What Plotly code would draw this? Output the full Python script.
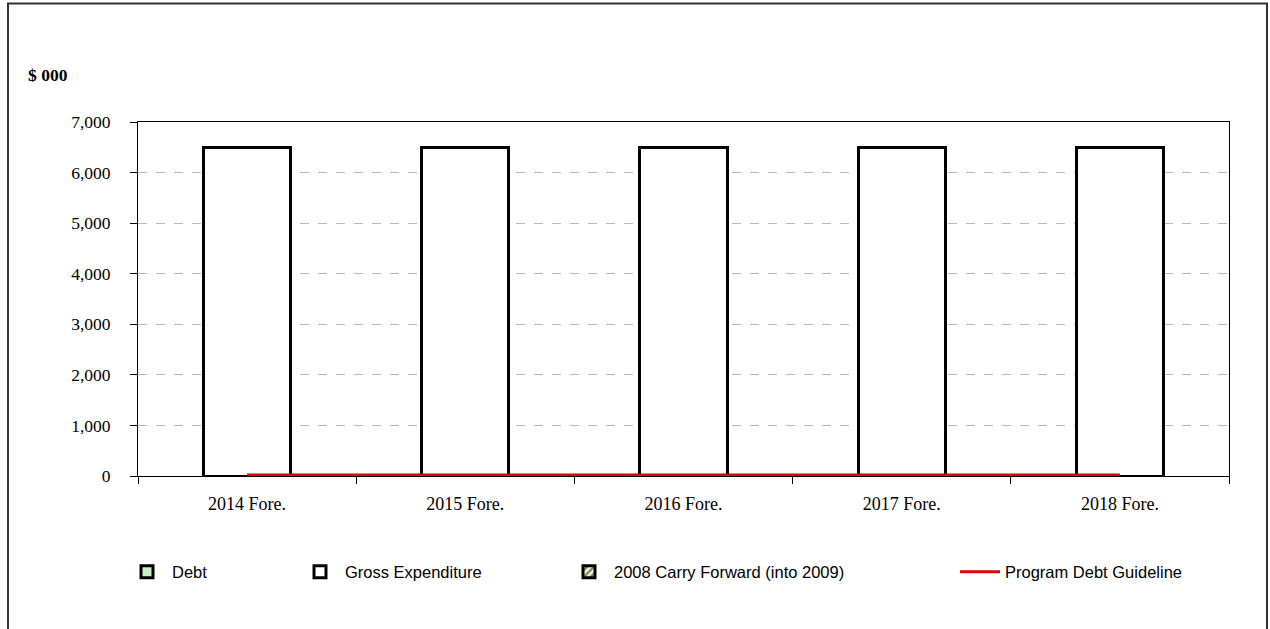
import plotly.graph_objects as go

categories = ["2014 Fore.", "2015 Fore.", "2016 Fore.", "2017 Fore.", "2018 Fore."]
debt = [0, 0, 0, 0, 0]
gross_expenditure = [6500, 6500, 6500, 6500, 6500]
carry_forward = [0, 0, 0, 0, 0]
debt_guideline = [20, 20, 20, 20, 20]
y_ticks = [0, 1000, 2000, 3000, 4000, 5000, 6000, 7000]
y_tick_labels = ["0", "1,000", "2,000", "3,000", "4,000", "5,000", "6,000", "7,000"]

W, H = 1270, 629
L, R, T, B = 138, 1229, 122, 476
pw, ph = R - L, B - T

def px(x):
    return (x - L) / pw

def py(y):
    return (B - y) / ph

serif = "Liberation Serif, Times New Roman, serif"

fig = go.Figure()
fig.add_trace(go.Bar(
    x=categories, y=debt, name="Debt",
    marker=dict(color="#c6f0c6", line=dict(color="black", width=3)),
    width=0.4, legend="legend",
))
fig.add_trace(go.Bar(
    x=categories, y=gross_expenditure, name="Gross Expenditure",
    marker=dict(color="white", line=dict(color="black", width=3)),
    width=0.4, legend="legend2",
))
fig.add_trace(go.Bar(
    x=categories, y=carry_forward, name="2008 Carry Forward (into 2009)",
    marker=dict(color="#f5f0c8", line=dict(color="black", width=3),
                pattern=dict(shape="/", fgcolor="black", bgcolor="#f5f0c8", size=6, solidity=0.4)),
    width=0.4, legend="legend3",
))
fig.add_trace(go.Scatter(
    x=categories, y=debt_guideline, name="Program Debt Guideline",
    mode="lines", line=dict(color="#e00000", width=3), legend="legend4",
))

legend_font = dict(family="Liberation Sans, Arial, sans-serif", size=16.5, color="black")
ly = py(572)
common = dict(orientation="h", yanchor="middle", xanchor="left", y=ly,
              font=legend_font, bgcolor="rgba(0,0,0,0)", itemwidth=40)
fig.update_layout(
    legend=dict(x=px(122), **common),
    legend2=dict(x=px(295), **common),
    legend3=dict(x=px(564), **common),
    legend4=dict(x=px(955), **common),
)

fig.update_layout(
    width=W, height=H,
    margin=dict(l=L, r=W - R, t=T, b=H - B, pad=0),
    paper_bgcolor="white", plot_bgcolor="white",
    barmode="stack", bargap=0.6,
    showlegend=True,
    font=dict(family=serif, size=17, color="black"),
    xaxis=dict(
        type="category", showline=True, linecolor="black", linewidth=1, mirror=True,
        ticks="outside", tickson="boundaries", ticklen=7, tickcolor="black",
        showgrid=False, tickfont=dict(family=serif, size=18, color="black"),
        ticklabelstandoff=11,
    ),
    yaxis=dict(
        range=[0, 7000], tickvals=y_ticks, ticktext=y_tick_labels,
        showline=True, linecolor="black", linewidth=1, mirror=True,
        ticks="outside", ticklen=7, tickcolor="black",
        showgrid=True, gridcolor="#b8b8b8", griddash="dash", gridwidth=1,
        zeroline=False,
        tickfont=dict(family=serif, size=17.5, color="black"),
        ticklabelstandoff=16,
    ),
    annotations=[dict(
        text="<b>$ 000</b>", xref="paper", yref="paper", x=px(26), y=py(75),
        xanchor="left", yanchor="middle", showarrow=False,
        font=dict(family=serif, size=17.5, color="black"),
    )],
    shapes=[dict(
        type="rect", xref="paper", yref="paper",
        x0=px(8), x1=px(1267), y0=py(660), y1=py(3.5),
        line=dict(color="#333333", width=2), fillcolor="rgba(0,0,0,0)", layer="below",
    )],
)

fig.write_html("out.html", config={"displayModeBar": False},
               post_script="document.body.style.margin='0';")
